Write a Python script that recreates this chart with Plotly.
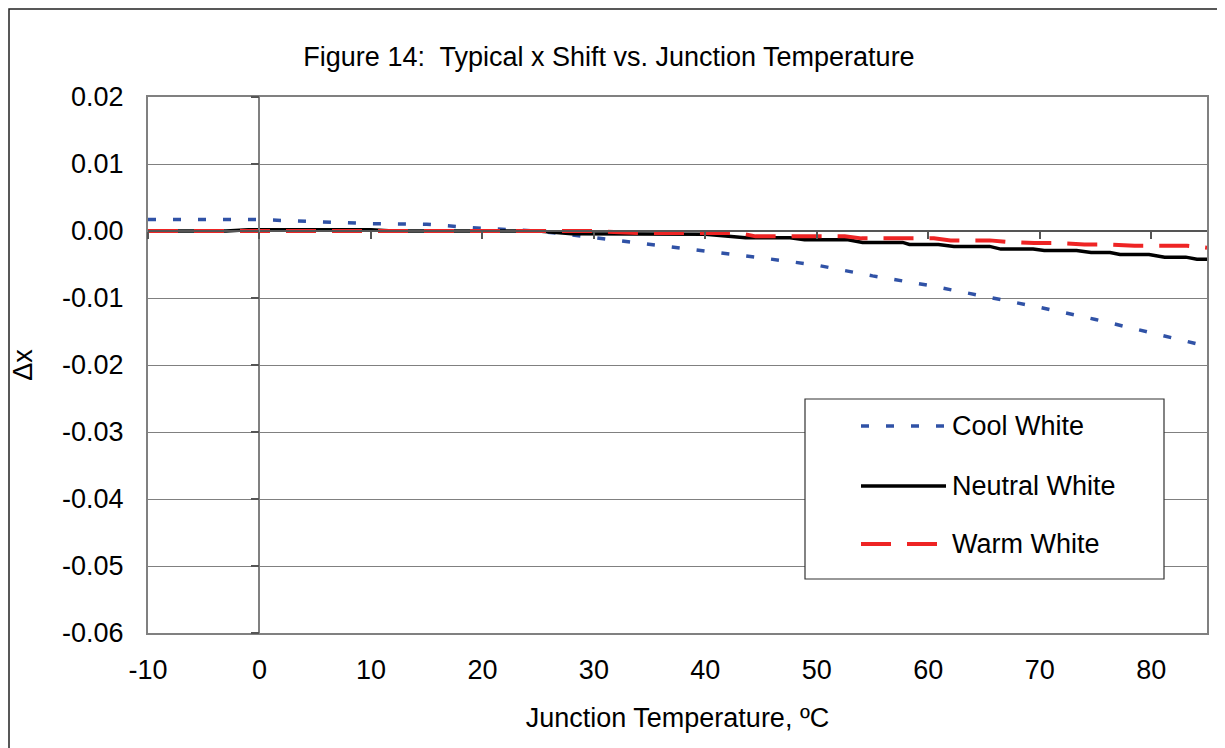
import plotly.graph_objects as go

# ---------------- data ----------------
series_names = ["Cool White", "Neutral White", "Warm White"]

temp_cool = [-10, -5, 0, 5, 10, 15, 20, 25, 30, 35, 40, 45, 50, 55, 60, 65, 70, 75, 80, 85]
dx_cool = [0.0017, 0.0017, 0.0017, 0.0014, 0.0011, 0.0010, 0.0004, 0.0000, -0.0010, -0.0019,
           -0.0030, -0.0040, -0.0051, -0.0067, -0.0081, -0.0097, -0.0114, -0.0132, -0.0152, -0.0172]

temp_neutral = [-10, -3, -1, 10, 12, 25, 28, 36, 40, 43.6, 47.6, 48.9, 52.8, 54.1, 57.7, 58.3,
                60.9, 62.3, 65.5, 66.5, 69.4, 70.4, 73.3, 74.6, 76.3, 77.2, 79.8, 81.2, 83.1, 84.1, 85]
dx_neutral = [0, 0, 0.0002, 0.0002, 0, 0, -0.0004, -0.0005, -0.0005, -0.0010, -0.0010, -0.0013,
              -0.0013, -0.0017, -0.0017, -0.0020, -0.0020, -0.0023, -0.0023, -0.0027, -0.0027,
              -0.0029, -0.0029, -0.0032, -0.0032, -0.0035, -0.0035, -0.0039, -0.0039, -0.0042, -0.0042]

temp_warm = [-10, 30, 34, 43, 44.5, 52.5, 54, 60.5, 62, 65.5, 67, 69.5, 71.5, 74, 76, 78.5, 80.5, 83.2, 85]
dx_warm = [0, 0, -0.0003, -0.0003, -0.0008, -0.0008, -0.0011, -0.0011, -0.0014, -0.0014, -0.0016,
           -0.0018, -0.0018, -0.0020, -0.0020, -0.0022, -0.0022, -0.0022, -0.0025]

x_tick_vals = [-10, 0, 10, 20, 30, 40, 50, 60, 70, 80]
x_tick_text = ["-10", "0", "10", "20", "30", "40", "50", "60", "70", "80"]
y_tick_vals = [0.02, 0.01, 0.0, -0.01, -0.02, -0.03, -0.04, -0.05, -0.06]
y_tick_text = ["0.02", "0.01", "0.00", "-0.01", "-0.02", "-0.03", "-0.04", "-0.05", "-0.06"]

x_range = [-10, 85]
y_range = [-0.06, 0.02]

# ---------------- layout constants (screen px; page body has an 8px margin) ----------------
OFF = 8
W, H = 1225 - OFF, 748 - OFF
L, R, T, B = 148 - OFF, 1207 - OFF, 97 - OFF, 633 - OFF
FONT = "Liberation Sans, Arial, sans-serif"
FS = 27
GRAY = "#808080"

colors = ["#3052A6", "#000000", "#EE2424"]
dashes = ["8px,17px", "solid", "30px,16px"]
widths = [3.5, 3.5, 4]


def px_x(p):
    return (p - OFF - L) / (R - L)


def px_y(p):
    return (B - (p - OFF)) / (B - T)


fig = go.Figure()
for name, xs, ys, c, d, w in zip(series_names,
                                 [temp_cool, temp_neutral, temp_warm],
                                 [dx_cool, dx_neutral, dx_warm],
                                 colors, dashes, widths):
    fig.add_trace(go.Scatter(x=xs, y=ys, mode="lines", name=name,
                             line=dict(color=c, width=w, dash=d),
                             showlegend=False, hoverinfo="skip"))

# empty trace so the crossing axes (x2 / y2) are drawn
fig.add_trace(go.Scatter(x=[None], y=[None], xaxis="x2", yaxis="y2", mode="lines",
                         showlegend=False, hoverinfo="skip"))

# ---------------- custom legend ----------------
shapes = []
annotations = []
shapes.append(dict(type="rect", xref="paper", yref="paper",
                   x0=px_x(805), x1=px_x(1164), y0=px_y(579), y1=px_y(399),
                   line=dict(color="#333333", width=1.2), fillcolor="white", layer="above"))
row_y = [426, 486, 544]
for name, c, d, w, ry in zip(series_names, colors, dashes, widths, row_y):
    shapes.append(dict(type="line", xref="paper", yref="paper",
                       x0=px_x(861), x1=px_x(946), y0=px_y(ry), y1=px_y(ry),
                       line=dict(color=c, width=w, dash=d), layer="above"))
    annotations.append(dict(xref="paper", yref="paper", x=px_x(950), y=px_y(ry),
                            xanchor="left", yanchor="middle", text=name, showarrow=False,
                            font=dict(family=FONT, size=FS, color="black")))

# outer frame
shapes.append(dict(type="rect", xref="paper", yref="paper",
                   x0=px_x(9), x1=px_x(1223), y0=px_y(770), y1=px_y(9),
                   line=dict(color="#222222", width=1.5), layer="below"))

fig.update_layout(
    width=W, height=H,
    margin=dict(l=L, r=W - R, t=T, b=H - B, autoexpand=False),
    paper_bgcolor="white", plot_bgcolor="white",
    font=dict(family=FONT, size=FS, color="black"),
    title=dict(text="Figure 14:  Typical x Shift vs. Junction Temperature",
               x=(609 - OFF) / W, xanchor="center", y=1 - (57 - OFF) / H, yanchor="middle",
               font=dict(family=FONT, size=FS, color="black")),
    xaxis=dict(range=x_range, tickvals=x_tick_vals, ticktext=x_tick_text,
               showgrid=False, zeroline=False, showline=True, mirror=True,
               linecolor=GRAY, linewidth=2, ticks="", ticklabelstandoff=12,
               tickfont=dict(family=FONT, size=FS, color="black"),
               title=dict(text="Junction Temperature, ºC", standoff=24,
                          font=dict(family=FONT, size=FS, color="black"))),
    yaxis=dict(range=y_range, tickvals=y_tick_vals, ticktext=y_tick_text,
               showgrid=True, gridcolor=GRAY, gridwidth=1, zeroline=False,
               showline=True, mirror=True, linecolor=GRAY, linewidth=2,
               ticks="", ticklabelstandoff=17,
               tickfont=dict(family=FONT, size=FS, color="black"),
               title=dict(text="Δx", standoff=22,
                          font=dict(family=FONT, size=FS, color="black"))),
    # axis crossing lines (x axis at y=0, y axis at x=0)
    xaxis2=dict(range=x_range, overlaying="x", anchor="free",
                position=(0 - y_range[0]) / (y_range[1] - y_range[0]),
                tickvals=x_tick_vals, showticklabels=False, showgrid=False,
                zeroline=False, showline=True, linecolor="#555555", linewidth=1.5,
                ticks="outside", ticklen=7, tickwidth=1.5, tickcolor="#555555"),
    yaxis2=dict(range=y_range, overlaying="y", anchor="free",
                position=(0 - x_range[0]) / (x_range[1] - x_range[0]),
                tickvals=y_tick_vals, showticklabels=False, showgrid=False,
                zeroline=False, showline=True, linecolor=GRAY, linewidth=1.5,
                ticks="outside", ticklen=8, tickwidth=1.5, tickcolor="#555555"),
    shapes=shapes,
    annotations=annotations,
    showlegend=False,
)

fig.write_html("out.html")
